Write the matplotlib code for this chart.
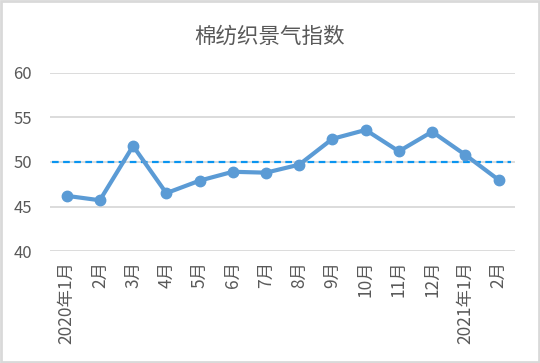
import matplotlib.pyplot as plt
from matplotlib.patches import Rectangle

plt.rcParams['font.family'] = ['Noto Sans CJK SC', 'DejaVu Sans']

# 数据
months = ['2020年1月', '2月', '3月', '4月', '5月', '6月', '7月', '8月',
          '9月', '10月', '11月', '12月', '2021年1月', '2月']
index_vals = [46.2, 45.7, 51.8, 46.5, 47.9, 48.9, 48.8, 49.7,
              52.6, 53.6, 51.2, 53.4, 50.8, 48.0]
baseline = 50
yticks = [40, 45, 50, 55, 60]

fig = plt.figure(figsize=(5.4, 3.63), dpi=100)
ax = fig.add_axes([0.0926, 0.3085, 0.8614, 0.4905])

x = list(range(len(months)))
ax.set_xlim(-0.5, len(months) - 0.5)
ax.set_ylim(40, 60)
ax.set_yticks(yticks)
ax.grid(axis='y', color='#d9d9d9', linewidth=1.3)
ax.set_axisbelow(True)

ax.axhline(baseline, color='#0a95f0', linewidth=1.6, linestyle=(0, (3, 2)),
           xmin=0.005, xmax=0.99, zorder=2)
ax.plot(x, index_vals, color='#5b9bd5', linewidth=3, marker='o',
        markersize=7.5, zorder=3)

ax.set_xticks(x)
ax.set_xticklabels(months, rotation=90, fontsize=12.5, color='#595959')
ax.tick_params(axis='y', labelsize=12, labelcolor='#595959', length=0, pad=13)
ax.tick_params(axis='x', length=0, pad=7)
for s in ax.spines.values():
    s.set_visible(False)

fig.text(0.5, 0.9, '棉纺织景气指数', ha='center', va='center',
         fontsize=15.5, color='#595959')

fig.patches.append(Rectangle((0.002, 0.003), 0.996, 0.994, transform=fig.transFigure,
                             fill=False, edgecolor='#d9d9d9', linewidth=2))

fig.savefig('out.png', dpi=100)
